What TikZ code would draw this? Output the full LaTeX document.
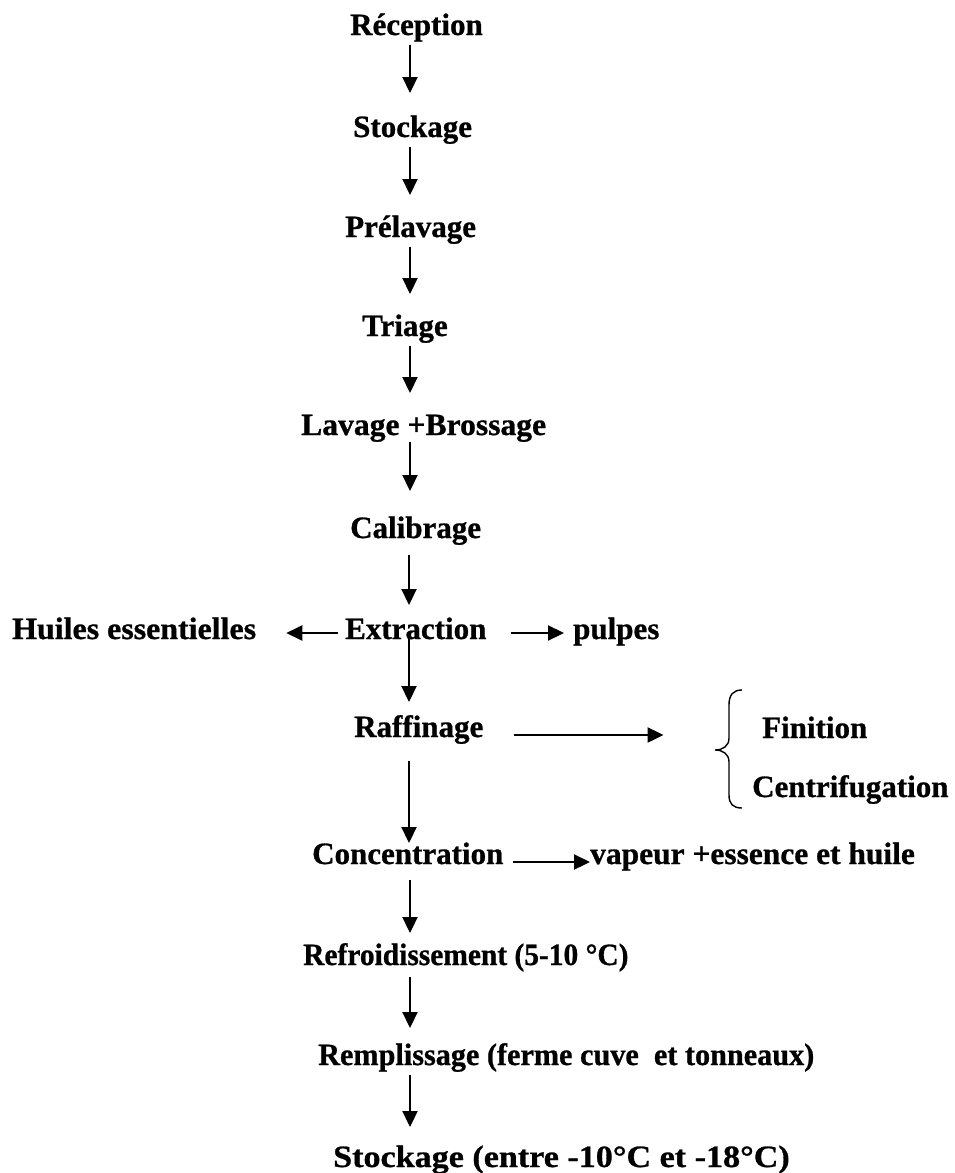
\documentclass[tikz,border=0pt]{standalone}
\usepackage{fontspec}
\usepackage{graphicx}
\setmainfont{Liberation Serif}[BoldFeatures={FakeBold=0.8}]
\usetikzlibrary{arrows.meta}
\begin{document}
\begin{tikzpicture}[x=1pt,y=1pt,
  lbl/.style={anchor=base west,inner sep=0pt,font=\fontsize{31}{36}\selectfont\bfseries},
  arr/.style={line width=2.2pt,-{Triangle[length=16pt,width=15pt]}},
  brace/.style={line width=1.4pt}]
\fill[white] (0,0) rectangle (954,-1173);
\useasboundingbox (0,0) rectangle (954,-1173);

% process steps (base west anchors at their baselines)
\node[lbl] (rec)  at (350,-35)   {Réception};
\node[lbl] (sto)  at (353,-137)  {Stockage};
\node[lbl] (pre)  at (345,-237)  {Prélavage};
\node[lbl] (tri)  at (362,-336)  {Triage};
\node[lbl] (lav)  at (301,-435)  {\scalebox{1.02}[1]{Lavage +Brossage}};
\node[lbl] (cal)  at (350,-538)  {Calibrage};
\node[lbl] (ext)  at (345,-639)  {Extraction};
\node[lbl] (hui)  at (12,-639)   {\scalebox{1.03}[1]{Huiles essentielles}};
\node[lbl] (pul)  at (573,-639)  {pulpes};
\node[lbl] (raf)  at (354,-737)  {Raffinage};
\node[lbl] (fin)  at (762,-738)  {Finition};
\node[lbl] (cen)  at (752,-797)  {Centrifugation};
\node[lbl] (con)  at (312,-864)  {Concentration};
\node[lbl] (vap)  at (590,-864)  {\scalebox{1.015}[1]{vapeur +essence et huile}};
\node[lbl] (ref)  at (303,-965)  {\scalebox{0.95}[1]{Refroidissement (5-10 °C)}};
\node[lbl] (rem)  at (318,-1065) {\scalebox{0.975}[1]{Remplissage (ferme cuve~ et tonneaux)}};
\node[lbl] (st2)  at (333,-1167) {\scalebox{1.1}[1]{Stockage (entre -10°C et -18°C)}};

% main column
\coordinate (col) at (410,0);
\coordinate (colb) at (409,0);
\draw[arr] ([yshift=-10pt]rec.base -| col) -- ([yshift=44pt]sto.base -| col);
\draw[arr] ([yshift=-10pt]sto.base -| col) -- ([yshift=42pt]pre.base -| col);
\draw[arr] ([yshift=-10pt]pre.base -| col) -- ([yshift=42pt]tri.base -| col);
\draw[arr] ([yshift=-10pt]tri.base -| col) -- ([yshift=42pt]lav.base -| col);
\draw[arr] ([yshift=-7pt]lav.base -| col)  -- ([yshift=47pt]cal.base -| col);
\draw[arr] ([yshift=-17pt]cal.base -| colb) -- ([yshift=34pt]ext.base -| colb);
\draw[arr] ([yshift=2pt]ext.base -| colb)  -- ([yshift=35pt]raf.base -| colb);
\draw[arr] ([yshift=-24pt]raf.base -| colb) -- ([yshift=21pt]con.base -| colb);
\draw[arr] ([yshift=-16pt]con.base -| col) -- ([yshift=32pt]ref.base -| col);
\draw[arr] ([yshift=-12pt]ref.base -| col) -- ([yshift=37pt]rem.base -| col);
\draw[arr] ([yshift=-10pt]rem.base -| col) -- ([yshift=40pt]st2.base -| col);

% side products
\draw[arr] ([xshift=-7pt,yshift=6pt]ext.base west) -- ([xshift=30pt,yshift=6pt]hui.base east);
\draw[arr] ([xshift=24pt,yshift=6pt]ext.base east) -- ([xshift=-9pt,yshift=6pt]pul.base west);
\draw[arr] ([xshift=30pt,yshift=2pt]raf.base east) -- ([xshift=180pt,yshift=2pt]raf.base east);
\draw[arr] ([xshift=9pt,yshift=2pt]con.base east) -- ([xshift=0pt,yshift=2pt]vap.base west);

% brace grouping the refining operations
\draw[brace] (742,-690) .. controls (733,-690) and (729,-695) .. (729,-705) -- (729,-738)
  .. controls (729,-746) and (723,-750) .. (715,-750)
  .. controls (723,-750) and (729,-754) .. (729,-762) -- (729,-795)
  .. controls (729,-804) and (733,-808) .. (742,-808);
\end{tikzpicture}
\end{document}
